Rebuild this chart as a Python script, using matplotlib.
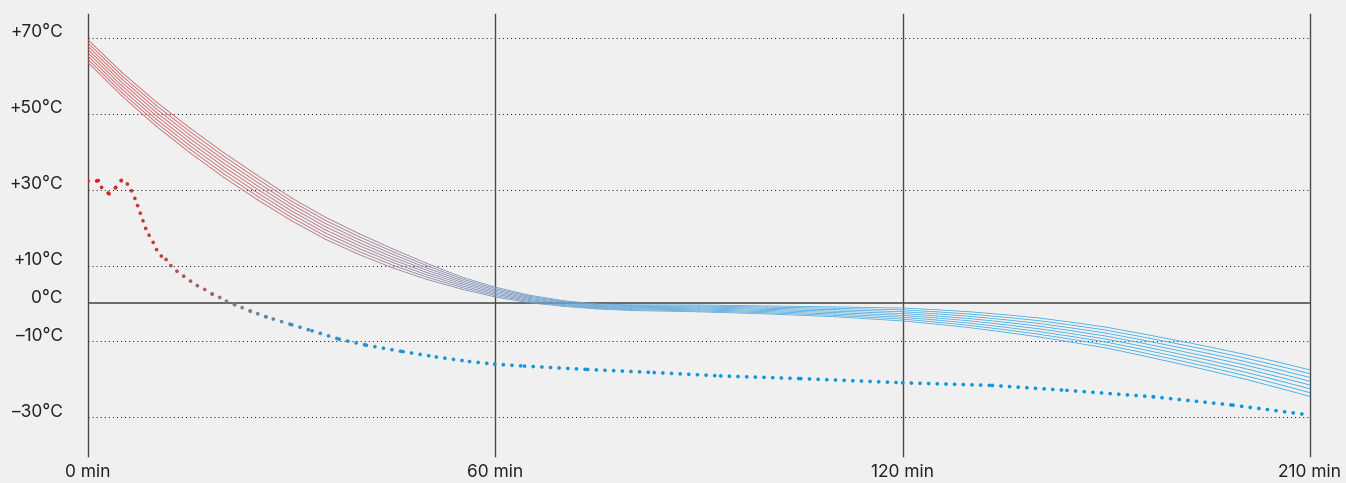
import numpy as np
import matplotlib
matplotlib.use("Agg")
import matplotlib.pyplot as plt
from matplotlib.collections import LineCollection
from matplotlib.colors import LinearSegmentedColormap
from matplotlib.transforms import ScaledTranslation

# ---------------- data ----------------
x_ticks = [0, 60, 120, 210]
x_labels = ["0 min", "60 min", "120 min", "210 min"]
y_ticks = [70, 50, 30, 10, 0, -10, -30]
y_labels = ["+70°C", "+50°C", "+30°C", "+10°C", "0°C", "–10°C", "–30°C"]

# bundle of 8 lines: centre curve and total spread (top - bottom)
bundle_times = [0, 5, 10, 15, 20, 25, 30, 35, 40, 45, 50, 55, 60, 65, 70, 75, 80,
                90, 100, 110, 120, 127.5, 135, 142.5, 150, 157.5, 165, 172.5, 180,
                187.5, 195, 202.5, 210]
bundle_center = [66.5, 57.8, 50.0, 43.0, 36.5, 30.5, 24.8, 19.8, 15.6, 11.8, 8.4, 5.4,
                 3.0, 1.2, 0.0, -0.8, -1.1, -1.3, -1.7, -2.2, -2.9, -3.55, -4.3, -5.25,
                 -6.3, -7.6, -9.0, -10.75, -12.6, -14.5, -16.5, -18.7, -21.0]
bundle_spread = [6.0, 6.2, 6.4, 6.5, 6.5, 6.4, 6.0, 5.8, 5.5, 5.0, 4.2, 3.2, 2.6, 2.0,
                 1.5, 1.3, 1.5, 1.8, 2.1, 2.6, 3.4, 3.8, 4.2, 4.6, 5.0, 5.25, 5.5, 5.75,
                 6.0, 6.25, 6.5, 6.75, 7.0]
n_bundle = 8

# dotted measured curve
dot_times = [0, 1.5, 2.0, 3.1, 4.1, 4.9, 5.8, 6.4, 6.9, 7.3, 7.7, 8.1, 8.5, 9.0, 9.6,
             10.1, 10.8, 11.5, 12.2, 13.1, 14.1, 15.1, 16.1, 17.2, 18.3, 19.4, 20.4,
             21.6, 22.7, 23.9, 25.0, 26.2, 27.3, 30, 33, 37, 41, 46.4, 51.3, 56.2,
             59.9, 64.3, 73.6, 83.4, 93.2, 105, 120, 139.8, 156.3, 175.4, 193, 210]
dot_temps = [32.4, 32.4, 30.6, 28.9, 30.6, 32.4, 31.5, 29.7, 27.7, 25.8, 23.8, 21.8,
             19.8, 18.0, 16.1, 14.2, 12.5, 11.6, 10.0, 8.5, 7.2, 5.9, 4.7, 3.7, 2.5,
             1.6, 0.6, -0.3, -1.1, -2.0, -2.7, -3.5, -4.1, -5.6, -7.2, -9.4, -11.0,
             -12.7, -14.1, -15.3, -16.0, -16.5, -17.4, -18.2, -19.1, -19.8, -20.9,
             -21.6, -22.9, -24.6, -26.8, -29.4]

# ---------------- style ----------------
BG = "#f0f0f0"
TXT = "#222222"
plt.rcParams['font.family'] = ['Inter', 'DejaVu Sans']

fig = plt.figure(figsize=(13.46, 4.83), dpi=100, facecolor=BG)
W, H = 1346, 483
ax_left, ax_right, ax_top, ax_bot = 88, 1310, 14, 456
ax = fig.add_axes([ax_left / W, 1 - ax_bot / H, (ax_right - ax_left) / W, (ax_bot - ax_top) / H])
ax.set_facecolor(BG)

# piecewise x scale: equal spacing between ticks
brk_x = [-1000, 0, 60, 120, 210, 1000]
brk_u = [-1000 / 60, 0, 1, 2, 3, 3 + 790 / 90]
fwd = lambda v: np.interp(v, brk_x, brk_u)
inv = lambda u: np.interp(u, brk_u, brk_x)
ax.set_xscale('function', functions=(fwd, inv))
ax.set_xlim(0, 210)
ax.set_ylim(-40.2, 76.3)

for s in ax.spines.values():
    s.set_visible(False)

# grid lines
for yv in y_ticks:
    if yv == 0:
        ax.axhline(0, color="#444444", lw=1.1, zorder=1)
    else:
        ax.axhline(yv, color="#222222", lw=0.75, linestyle=(0, (1, 2.9)), zorder=1)
for xv in x_ticks:
    ax.axvline(xv, color="#4a4a4a", lw=1.0, zorder=1, clip_on=False)

# bundle colours along time
bundle_cmap = LinearSegmentedColormap.from_list("bundle", [
    (0 / 210, (0.84, 0.36, 0.36)),
    (25 / 210, (0.76, 0.42, 0.44)),
    (45 / 210, (0.60, 0.50, 0.60)),
    (60 / 210, (0.48, 0.58, 0.74)),
    (75 / 210, (0.40, 0.66, 0.85)),
    (120 / 210, (0.30, 0.68, 0.89)),
    (210 / 210, (0.22, 0.67, 0.91)),
])
bt = np.array(bundle_times, float)
bc = np.array(bundle_center, float)
bs = np.array(bundle_spread, float)
segs, cols = [], []
for k in range(n_bundle):
    yk = bc + bs * (0.5 - k / (n_bundle - 1))
    for i in range(len(bt) - 1):
        segs.append([(bt[i], yk[i]), (bt[i + 1], yk[i + 1])])
        cols.append(bundle_cmap((bt[i] + bt[i + 1]) / 2 / 210))
lc = LineCollection(segs, colors=cols, linewidths=0.6, zorder=2, capstyle='round')
ax.add_collection(lc)

# dotted curve
dot_cmap = LinearSegmentedColormap.from_list("dots", [
    (0 / 210, (0.84, 0.12, 0.14)),
    (8 / 210, (0.77, 0.22, 0.20)),
    (13 / 210, (0.69, 0.32, 0.28)),
    (20 / 210, (0.58, 0.45, 0.43)),
    (24 / 210, (0.49, 0.51, 0.55)),
    (33 / 210, (0.24, 0.55, 0.75)),
    (45 / 210, (0.08, 0.59, 0.84)),
    (210 / 210, (0.0, 0.60, 0.86)),
])
dt = np.array(dot_times, float)
dv = np.array(dot_temps, float)
dsegs = [[(dt[i], dv[i]), (dt[i + 1], dv[i + 1])] for i in range(len(dt) - 1)]
dcols = [dot_cmap((dt[i] + dt[i + 1]) / 2 / 210) for i in range(len(dt) - 1)]
dlc = LineCollection(dsegs, colors=dcols, linewidths=2.7, linestyles=[(0, (0.01, 2.3))],
                     capstyle='round', zorder=3)
ax.add_collection(dlc)

# ticks
ax.set_xticks(x_ticks)
ax.set_xticklabels(x_labels)
ax.set_yticks(y_ticks)
ax.set_yticklabels(y_labels)
ax.tick_params(axis='both', length=0, labelsize=12.5, labelcolor=TXT)
ax.tick_params(axis='x', pad=6)
ax.tick_params(axis='y', pad=18)
ax.minorticks_off()
off = ScaledTranslation(0, 7 / 100, fig.dpi_scale_trans)
for lab in ax.get_yticklabels():
    lab.set_transform(lab.get_transform() + off)

fig.savefig("out.png", dpi=100, facecolor=BG)
